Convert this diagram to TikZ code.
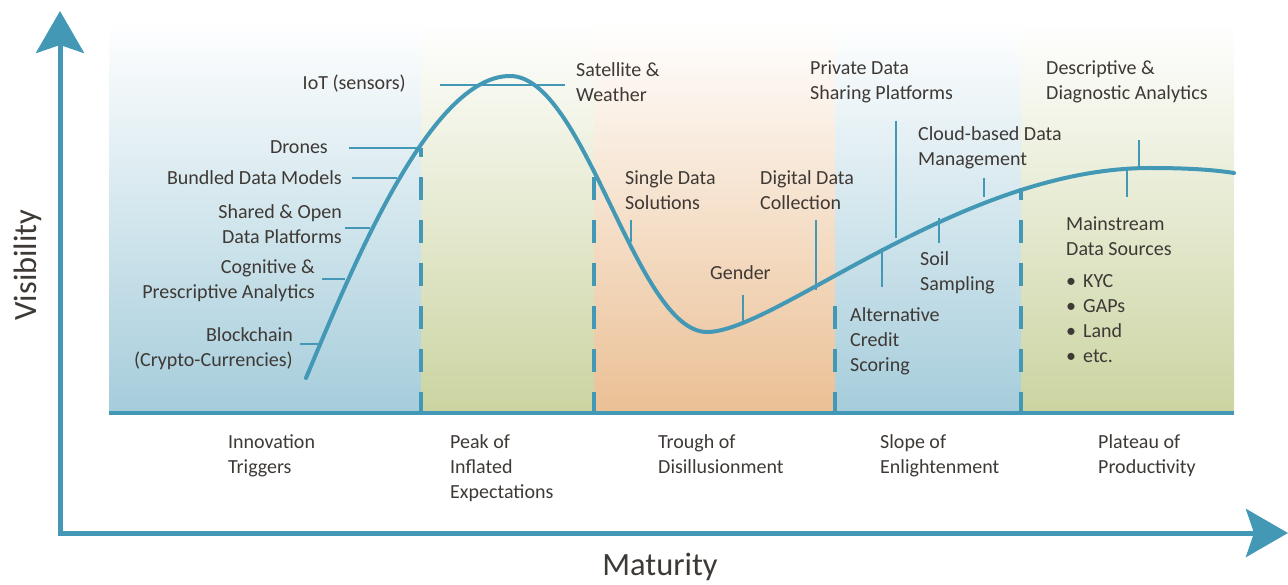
\documentclass[tikz,border=0pt]{standalone}
\usepackage{fontspec}
\setmainfont{Carlito}
\usetikzlibrary{arrows.meta}
\definecolor{hcblue}{RGB}{67,152,181}
\definecolor{bgblue}{RGB}{166,205,219}
\definecolor{bggreen}{RGB}{203,212,161}
\definecolor{bgorange}{RGB}{235,192,149}
\definecolor{txtgray}{RGB}{62,57,53}
\begin{document}
\begin{tikzpicture}[x=1pt,y=-1pt,
  lbl/.style={inner sep=0pt, text=txtgray, font=\fontsize{20}{25}\selectfont},
  big/.style={inner sep=0pt, text=txtgray, font=\fontsize{32.5}{36}\selectfont},
  lead/.style={draw=hcblue, line width=1.8pt},
  phaseline/.style={draw=hcblue, line width=3.5pt, dash pattern=on 23pt off 20pt, dash phase=4pt},
  hype/.style={draw=hcblue, line width=4pt, line cap=round},
  axisline/.style={draw=hcblue, line width=5pt,
    {Stealth[length=42pt,width=48pt,inset=8pt]}-{Stealth[length=42pt,width=48pt,inset=8pt]}}]
\useasboundingbox (0,0) rectangle (1288,585);
% backgrounds
\shade[top color=white, bottom color=bgblue] (109,22) rectangle (421,411);
\shade[top color=white, bottom color=bggreen] (421,22) rectangle (594,411);
\shade[top color=white, bottom color=bgorange] (594,22) rectangle (835,411);
\shade[top color=white, bottom color=bgblue] (835,22) rectangle (1021,411);
\shade[top color=white, bottom color=bggreen] (1021,22) rectangle (1234,411);
% bottom line
\coordinate (bl) at (109,413);
\coordinate (br) at (1234,413);
\draw[draw=hcblue, line width=3.5pt] (bl) -- (br);
% phase boundaries
\coordinate (d1b) at (421,411); \coordinate (d1t) at (421,148);
\coordinate (d2b) at (594,411); \coordinate (d2t) at (594,167);
\coordinate (d3b) at (835,411); \coordinate (d3t) at (835,290);
\coordinate (d4b) at (1021,411); \coordinate (d4t) at (1021,188);
\draw[phaseline] (d1b) -- (d1t);
\draw[phaseline] (d2b) -- (d2t);
\draw[phaseline] (d3b) -- (d3t);
\draw[phaseline] (d4b) -- (d4t);
% hype curve
\coordinate (c0) at (306,378);
\coordinate (c1) at (510,76);
\coordinate (c2) at (707,332);
\coordinate (c3) at (1150,168);
\coordinate (c4) at (1234,173);
\draw[hype] (c0) .. controls (352,268) and (430,76) .. (c1)
  .. controls (585,76) and (636,332) .. (c2)
  .. controls (775,332) and (960,168) .. (c3)
  .. controls (1190,168) and (1215,170) .. (c4);
% axes
\coordinate (ytip) at (60,11);
\coordinate (origin) at (60,533);
\coordinate (xtip) at (1288,533);
\draw[axisline] (ytip) -- (origin) -- (xtip);
% leader lines
\draw[lead] (440,85) -- (565,85);
\draw[lead] (349,148) -- (421,148);
\draw[lead] (352,178) -- (397,178);
\draw[lead] (345,228) -- (370,228);
\draw[lead] (322,279) -- (345,279);
\draw[lead] (300,344) -- (318,344);
\draw[lead] (631,220) -- (631,242);
\draw[lead] (743,295) -- (743,324);
\draw[lead] (816,220) -- (816,290);
\draw[lead] (896,121) -- (896,238);
\draw[lead] (882,248) -- (882,287);
\draw[lead] (939,218) -- (939,243);
\draw[lead] (984,178) -- (984,197);
\draw[lead] (1139,140) -- (1139,168);
\draw[lead] (1127,170) -- (1127,197);
% labels
\node[lbl, anchor=east] (iot) at (406,84) {IoT (sensors)};
\node[lbl, anchor=west, align=left] (sat) at (576,82.5) {Satellite \&\\Weather};
\node[lbl, anchor=east] (dro) at (328,147) {Drones};
\node[lbl, anchor=east] (bun) at (342,178) {Bundled Data Models};
\node[lbl, anchor=east, align=right] (sha) at (342,224.5) {Shared \& Open\\Data Platforms};
\node[lbl, anchor=east, align=right] (cog) at (315,280.5) {Cognitive \&\\Prescriptive Analytics};
\node[lbl, anchor=east, align=right] (blo) at (293,348.5) {Blockchain\\(Crypto-Currencies)};
\node[lbl, anchor=west, align=left] (sin) at (625,190) {Single Data\\Solutions};
\node[lbl, anchor=west] (gen) at (710,273) {Gender};
\node[lbl, anchor=west, align=left] (dig) at (760,190) {Digital Data\\Collection};
\node[lbl, anchor=west, align=left] (pri) at (810,82) {Private Data\\Sharing Platforms};
\node[lbl, anchor=west, align=left] (clo) at (918,147.5) {Cloud-based Data\\Management};
\node[lbl, anchor=west, align=left] (soi) at (920,272.5) {Soil\\Sampling};
\node[lbl, anchor=west, align=left] (alt) at (850,341) {Alternative\\Credit\\Scoring};
\node[lbl, anchor=west, align=left] (des) at (1046,82) {Descriptive \&\\Diagnostic Analytics};
\node[lbl, anchor=west, align=left] (mai) at (1066,236) {Mainstream\\Data Sources};
\node[lbl, anchor=west, align=left] (lst) at (1066,319) {•\hspace{7pt}KYC\\•\hspace{7pt}GAPs\\•\hspace{7pt}Land\\•\hspace{7pt}etc.};
% phase names
\node[lbl, anchor=north west, align=left] (p1) at (228,434) {Innovation\\Triggers};
\node[lbl, anchor=north west, align=left] (p2) at (450,434) {Peak of\\Inflated\\Expectations};
\node[lbl, anchor=north west, align=left] (p3) at (658,434) {Trough of\\Disillusionment};
\node[lbl, anchor=north west, align=left] (p4) at (880,434) {Slope of\\Enlightenment};
\node[lbl, anchor=north west, align=left] (p5) at (1098,434) {Plateau of\\Productivity};
% axis titles
\node[big, rotate=90] (vis) at (28,265) {Visibility};
\node[big] (mat) at (660,567) {Maturity};
\end{tikzpicture}
\end{document}
